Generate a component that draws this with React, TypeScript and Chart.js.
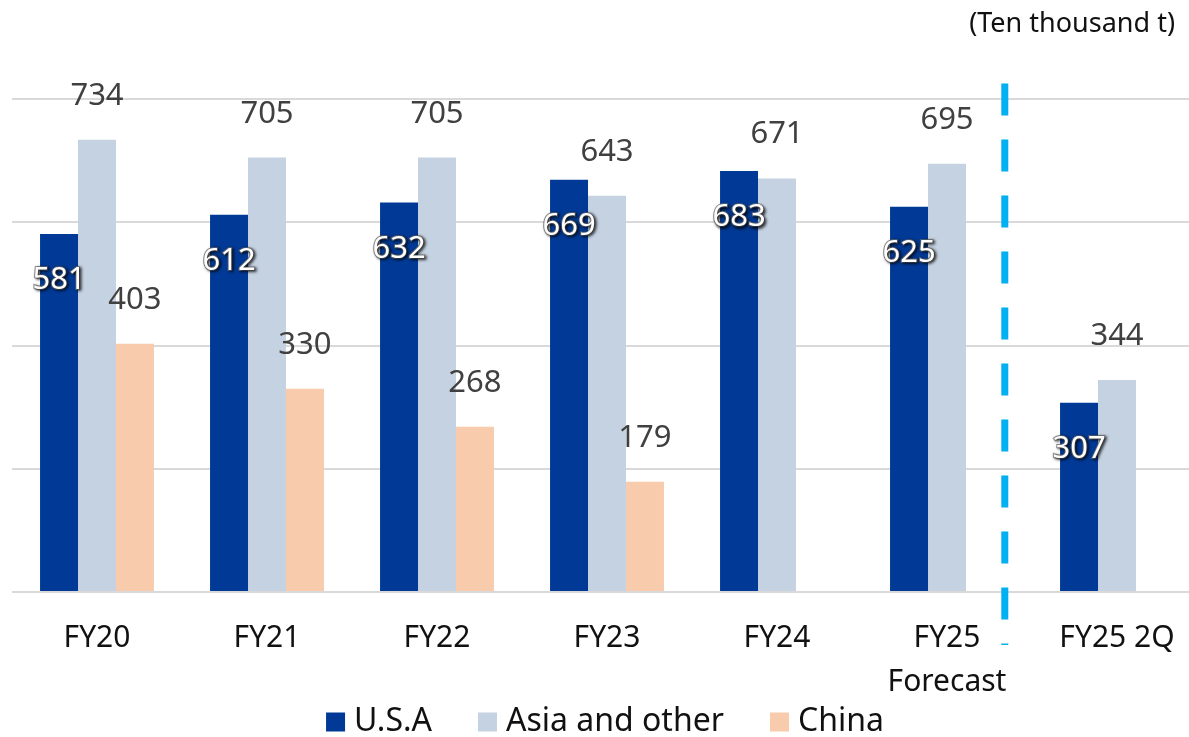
import React, { useEffect, useRef } from 'react';
import { Chart, registerables } from 'chart.js';

Chart.register(...registerables);

// Shipment volumes by region (ten thousand tonnes)
const categories: (string | string[])[] = ['FY20', 'FY21', 'FY22', 'FY23', 'FY24', ['FY25', 'Forecast'], 'FY25 2Q'];
const usaValues: (number | null)[] = [581, 612, 632, 669, 683, 625, 307];
const asiaValues: (number | null)[] = [734, 705, 705, 643, 671, 695, 344];
const chinaValues: (number | null)[] = [403, 330, 268, 179, null, null, null];
const seriesNames = ['U.S.A', 'Asia and other', 'China'];
const unitLabel = '(Ten thousand t)';
const yMin = 0;
const yMax = 800;
const yStep = 200;
// Divider between the full-year figures and the half-year figure (category index units)
const dividerPosition = 5.34;

const FONT = '"Noto Sans", "DejaVu Sans", sans-serif';
const COLORS = ['#003A96', '#C5D2E2', '#F7CBAC'];

const valueLabelPlugin = {
  id: 'valueLabels',
  afterDatasetsDraw(chart: any) {
    const ctx = chart.ctx;
    ctx.save();
    ctx.font = `31px ${FONT}`;
    ctx.textAlign = 'center';
    ctx.textBaseline = 'alphabetic';
    chart.data.datasets.forEach((ds: any, di: number) => {
      const meta = chart.getDatasetMeta(di);
      meta.data.forEach((bar: any, i: number) => {
        const v = ds.data[i];
        if (v === null || v === undefined) return;
        const text = String(v);
        if (di === 0) {
          // inside the bar, white with a soft dark shadow
          const y = bar.y + 55;
          ctx.save();
          ctx.shadowColor = 'rgba(0,0,0,0.75)';
          ctx.shadowBlur = 3;
          ctx.shadowOffsetX = 1.5;
          ctx.shadowOffsetY = 1.5;
          ctx.lineWidth = 2;
          ctx.strokeStyle = 'rgba(110,110,110,0.75)';
          ctx.strokeText(text, bar.x, y);
          ctx.fillStyle = '#ffffff';
          ctx.fillText(text, bar.x, y);
          ctx.restore();
        } else {
          ctx.fillStyle = '#404040';
          ctx.fillText(text, bar.x, bar.y - 35);
        }
      });
    });
    ctx.restore();
  },
};

// Legend row under the axis labels, built from the datasets
const legendPlugin = {
  id: 'bottomLegend',
  afterDraw(chart: any) {
    const ctx = chart.ctx;
    const box = 19;
    const textGap = 9;
    const itemGap = 46;
    const cy = 722;
    ctx.save();
    ctx.font = `32px ${FONT}`;
    ctx.textBaseline = 'middle';
    ctx.textAlign = 'left';
    const items = chart.data.datasets.map((ds: any) => ({
      text: ds.label,
      color: ds.backgroundColor,
      w: ctx.measureText(ds.label).width,
    }));
    const total =
      items.reduce((s: number, it: any) => s + box + textGap + it.w, 0) + itemGap * (items.length - 1);
    let x = chart.width / 2 - 2 - total / 2;
    items.forEach((it: any) => {
      ctx.fillStyle = it.color;
      ctx.fillRect(x, cy - box / 2, box, box);
      x += box + textGap;
      ctx.fillStyle = '#111111';
      ctx.fillText(it.text, x, cy);
      x += it.w + itemGap;
    });
    ctx.restore();
  },
};

const decorPlugin = {
  id: 'decor',
  afterDraw(chart: any) {
    const ctx = chart.ctx;
    const { chartArea } = chart;
    const xs = chart.scales.x;
    const ys = chart.scales.y;
    ctx.save();
    // dashed forecast divider
    const x = xs.getPixelForValue(dividerPosition);
    ctx.strokeStyle = '#00B0F0';
    ctx.lineWidth = 7;
    ctx.setLineDash([32, 24]);
    ctx.beginPath();
    ctx.moveTo(x, ys.getPixelForValue(yMax + 25));
    ctx.lineTo(x, chartArea.bottom + 53);
    ctx.stroke();
    ctx.setLineDash([]);
    // unit caption
    ctx.fillStyle = '#111111';
    ctx.font = `27px ${FONT}`;
    ctx.textAlign = 'right';
    ctx.textBaseline = 'middle';
    ctx.fillText(unitLabel, chartArea.right - 27, 24);
    ctx.restore();
  },
};

export default function App() {
  const canvasRef = useRef<HTMLCanvasElement | null>(null);

  useEffect(() => {
    if (!canvasRef.current) return;
    const chart = new Chart(canvasRef.current, {
      type: 'bar',
      data: {
        labels: categories as any,
        datasets: [
          { label: seriesNames[0], data: usaValues, backgroundColor: COLORS[0] },
          { label: seriesNames[1], data: asiaValues, backgroundColor: COLORS[1] },
          { label: seriesNames[2], data: chinaValues, backgroundColor: COLORS[2] },
        ],
      },
      options: {
        animation: false,
        responsive: false,
        devicePixelRatio: 1,
        layout: { padding: { top: 99, left: 12, right: 12, bottom: 0 } },
        datasets: { bar: { categoryPercentage: 0.67, barPercentage: 1.0 } },
        plugins: {
          legend: { display: false },
          tooltip: { enabled: false },
          title: { display: false },
        },
        scales: {
          x: {
            grid: { display: false },
            border: { display: false },
            ticks: {
              color: '#111111',
              font: { family: FONT, size: 30, lineHeight: 1.45 },
              padding: 17,
              maxRotation: 0,
              autoSkip: false,
            },
            afterFit: (scale: any) => {
              scale.height = 145;
            },
          },
          y: {
            min: yMin,
            max: yMax,
            ticks: { display: false, stepSize: yStep },
            grid: { color: '#D9D9D9', lineWidth: 2, drawTicks: false },
            border: { display: false },
            afterFit: (scale: any) => {
              scale.width = 0;
            },
          },
        },
      },
      plugins: [valueLabelPlugin, legendPlugin, decorPlugin],
    });
    return () => chart.destroy();
  }, []);

  return (
    <div
      style={{
        position: 'fixed',
        left: 0,
        top: 0,
        width: 1189,
        height: 737,
        overflow: 'hidden',
        background: '#ffffff',
      }}
    >
      <canvas ref={canvasRef} width={1214} height={737} style={{ display: 'block' }} />
    </div>
  );
}
